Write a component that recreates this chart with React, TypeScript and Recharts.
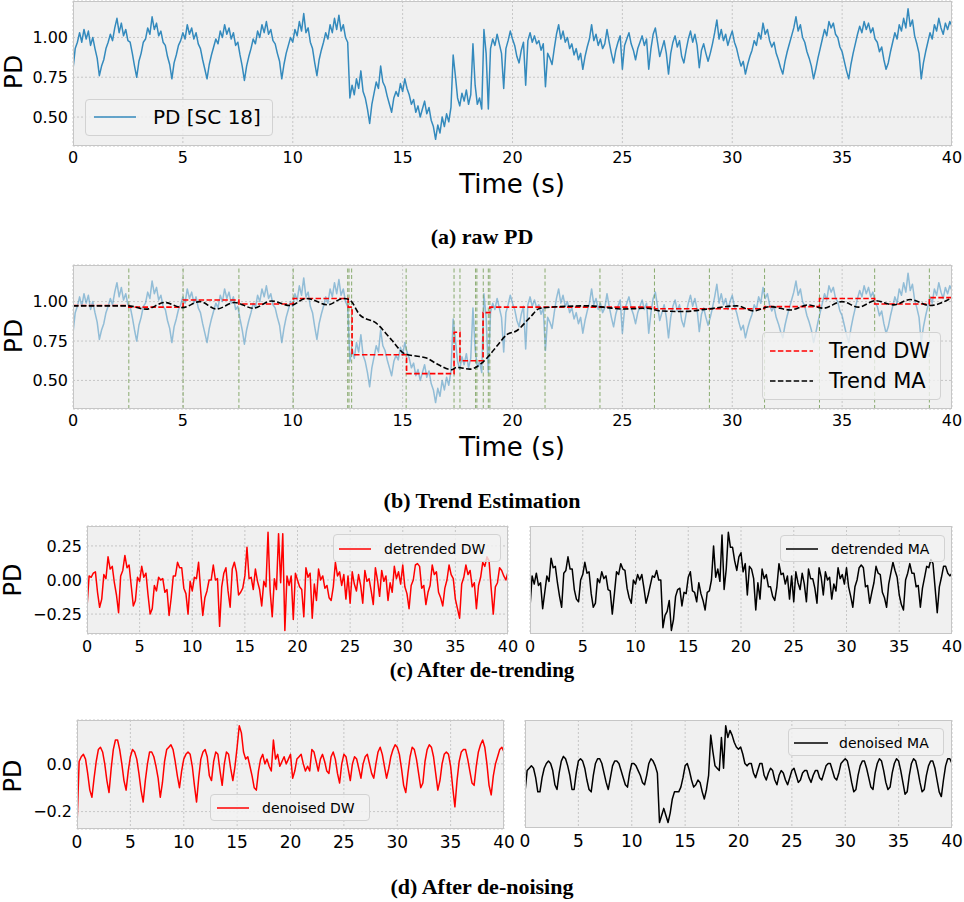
import React from 'react';
import { LineChart, Line, XAxis, YAxis, CartesianGrid, ReferenceLine } from 'recharts';

const FONT = '"DejaVu Sans", sans-serif';
const SERIF = '"Liberation Serif", "DejaVu Serif", serif';

// time axis
const xTicks = [0, 5, 10, 15, 20, 25, 30, 35, 40];
const RAW_STEP = 0.1;
const SMOOTH_STEP = 0.2;

// (a) raw PD, one row per second
const rawPD = [
  0.80, 0.93, 0.97, 1.03, 0.97, 1.05, 0.99, 1.04, 0.95, 1.00,
  0.93, 0.87, 0.76, 0.82, 0.86, 0.93, 0.97, 1.02, 0.98, 1.06,
  1.12, 1.03, 1.09, 1.01, 1.05, 0.98, 0.97, 0.90, 0.82, 0.75,
  0.85, 0.90, 0.97, 0.99, 1.06, 1.02, 1.13, 1.05, 1.09, 1.01,
  1.04, 0.97, 0.95, 0.88, 0.83, 0.74, 0.84, 0.89, 0.95, 0.98,
  1.03, 0.99, 1.08, 1.02, 1.06, 0.99, 1.03, 0.96, 0.93, 0.86,
  0.80, 0.74, 0.83, 0.89, 0.94, 0.99, 0.96, 1.04, 1.00, 1.08,
  1.02, 1.06, 0.99, 1.03, 0.95, 0.97, 0.89, 0.82, 0.73, 0.82,
  0.88, 0.93, 0.99, 0.96, 1.04, 1.00, 1.08, 1.03, 1.10, 1.02,
  1.05, 0.98, 0.96, 0.90, 0.85, 0.74, 0.83, 0.90, 0.95, 1.00,
  0.97, 1.05, 1.01, 1.10, 1.04, 1.15, 1.03, 1.06, 0.97, 0.93,
  0.84, 0.76, 0.86, 0.92, 0.97, 1.03, 0.99, 1.08, 1.03, 1.12,
  1.05, 1.14, 1.04, 1.08, 1.00, 0.97, 0.62, 0.70, 0.64, 0.74,
  0.68, 0.79, 0.66, 0.62, 0.55, 0.46, 0.58, 0.65, 0.72, 0.68,
  0.82, 0.72, 0.69, 0.63, 0.58, 0.53, 0.62, 0.66, 0.63, 0.71,
  0.66, 0.74, 0.68, 0.64, 0.58, 0.61, 0.53, 0.57, 0.50, 0.55,
  0.60, 0.52, 0.56, 0.48, 0.44, 0.36, 0.45, 0.40, 0.50, 0.44,
  0.52, 0.47, 0.56, 0.89, 0.76, 0.62, 0.57, 0.65, 0.60, 0.67,
  0.58, 0.64, 0.96, 0.70, 0.58, 0.62, 0.55, 1.05, 0.90, 0.55,
  0.93, 0.99, 0.95, 1.02, 0.96, 0.90, 0.68, 0.93, 0.98, 1.04,
  0.99, 0.95, 0.88, 0.84, 0.92, 0.97, 0.70, 0.98, 1.03, 0.97,
  1.01, 0.96, 0.98, 0.92, 0.96, 0.69, 0.90, 0.87, 0.83, 0.93,
  1.02, 1.08, 0.99, 1.04, 0.97, 1.00, 0.93, 0.96, 0.89, 0.93,
  0.86, 0.90, 0.80, 0.88, 0.94, 0.99, 1.08, 0.98, 1.02, 0.95,
  0.99, 0.93, 0.96, 1.05, 0.97, 0.90, 0.84, 0.92, 0.97, 1.01,
  0.80, 0.95, 0.99, 1.03, 0.96, 0.92, 0.86, 0.93, 0.97, 1.01,
  0.95, 0.99, 0.80, 0.93, 1.02, 1.06, 0.97, 0.88, 0.93, 0.98,
  0.90, 0.77, 0.90, 0.97, 1.01, 0.94, 0.98, 0.88, 0.84, 0.92,
  0.99, 1.04, 0.97, 1.02, 0.95, 0.81, 0.92, 0.96, 0.90, 0.85,
  0.90, 0.96, 1.03, 1.11, 0.99, 1.05, 0.98, 1.02, 0.95, 1.00,
  1.04, 0.97, 0.93, 0.87, 0.82, 0.85, 0.77, 0.83, 0.88, 0.92,
  0.98, 0.95, 1.03, 0.99, 1.09, 1.02, 1.05, 0.98, 0.94, 0.97,
  0.90, 0.86, 0.81, 0.77, 0.85, 0.91, 0.96, 1.01, 1.06, 1.13,
  1.04, 1.08, 1.00, 0.97, 0.91, 0.87, 0.82, 0.74, 0.80, 0.87,
  0.93, 0.99, 1.05, 1.01, 1.10, 1.06, 1.09, 1.02, 1.00, 0.94,
  0.91, 0.85, 0.79, 0.74, 0.83, 0.90, 0.96, 1.02, 1.07, 1.03,
  1.10, 1.05, 1.09, 1.03, 1.06, 0.99, 0.97, 0.91, 0.94, 0.86,
  0.80, 0.84, 0.91, 0.97, 1.03, 0.99, 1.08, 1.04, 1.12, 1.06,
  1.18, 1.07, 1.11, 1.01, 0.96, 0.90, 0.74, 0.84, 0.91, 0.97,
  1.03, 0.99, 1.08, 1.04, 1.12, 1.06, 1.02, 1.09, 1.05, 1.10,
  1.07,
];

// (b) trend estimation
const trendDWTimes = [0, 2.54, 5.01, 7.55, 10.02, 12.52, 12.7, 15.18, 17.34, 17.61, 18.66, 18.97, 26.46, 31.47, 33.97, 36.48, 38.97, 40];
const trendDWValues = [0.975, 0.965, 1.01, 0.985, 1.02, 0.965, 0.663, 0.543, 0.806, 0.625, 0.93, 0.965, 0.955, 0.968, 1.02, 0.985, 1.025, 1.025];

const trendMATimes = [
  0, 1, 2, 2.5, 3.33, 4.17, 4.98, 5.77, 6.53, 7.36,
  8.2, 9.03, 9.87, 10.62, 11.6, 12.3, 12.6, 13.05, 13.8, 14.49,
  15.1, 15.6, 16.09, 16.55, 17.23, 17.46, 18.06, 18.6, 18.97, 19.3,
  19.73, 20.19, 20.8, 21.25, 22.16, 23.53, 24.29, 25.05, 26.11, 26.72,
  27.78, 28.84, 30.21, 30.97, 31.73, 32.64, 33.47, 34.15, 34.99, 35.75,
  36.51, 37.34, 38.1, 39.0, 40.0,
];
const trendMAValues = [
  0.973, 0.973, 0.973, 0.973, 0.952, 0.994, 0.962, 1.0, 0.953, 0.994,
  0.958, 1.004, 0.975, 1.02, 0.98, 1.02, 1.01, 0.916, 0.863, 0.758,
  0.669, 0.655, 0.642, 0.606, 0.568, 0.583, 0.572, 0.61, 0.663, 0.72,
  0.789, 0.815, 0.9, 0.958, 0.968, 0.973, 0.962, 0.953, 0.958, 0.941,
  0.937, 0.952, 0.973, 0.941, 0.968, 0.947, 0.979, 0.958, 1.0, 0.965,
  1.006, 0.979, 1.013, 0.975, 1.025,
];

const changePoints = [2.54, 5.01, 7.55, 10.02, 12.5, 12.56, 12.68, 15.16, 17.34, 17.61, 18.32, 18.38, 18.67, 18.9, 18.97, 21.48, 23.98, 26.46, 28.96, 31.47, 33.97, 36.48, 38.97];

// (c) after de-trending, one row per 2 s
const detrendedDW = [
  -0.20, 0.03, 0.02, 0.05, 0.06, -0.09, -0.20, -0.14, 0.04, 0.01,
  0.17, 0.08, 0.10, -0.02, -0.11, -0.24, 0.03, 0.07, 0.18, 0.09,
  0.11, -0.04, -0.19, -0.15, 0.02, -0.01, 0.10, 0.02, 0.05, -0.11,
  -0.25, -0.21, -0.04, -0.08, 0.02, 0.00, 0.01, -0.09, -0.07, -0.26,
  -0.13, 0.03, 0.03, 0.13, 0.09, 0.09, -0.06, -0.10, -0.25, -0.01,
  -0.08, 0.02, 0.01, 0.13, -0.08, -0.26, -0.13, -0.08, 0.00, 0.00,
  0.11, 0.00, 0.01, -0.34, -0.05, 0.05, 0.09, -0.08, -0.20, 0.08,
  0.13, 0.06, -0.11, -0.09, -0.06, 0.03, 0.24, 0.01, 0.02, -0.07,
  0.08, -0.01, -0.07, -0.19, -0.01, -0.05, 0.35, -0.08, -0.27, 0.01,
  -0.07, 0.34, -0.02, 0.34, -0.37, 0.03, -0.04, 0.03, -0.29, 0.05,
  0.00, -0.05, -0.07, -0.27, 0.09, 0.02, 0.05, -0.28, -0.03, -0.15,
  0.08, 0.00, 0.03, -0.06, -0.04, -0.13, -0.15, -0.05, 0.13, 0.03,
  0.06, -0.04, 0.04, -0.14, 0.03, -0.17, 0.06, -0.03, -0.08, 0.04,
  -0.04, -0.17, 0.07, -0.01, 0.01, -0.08, -0.18, 0.09, 0.00, -0.12,
  0.07, -0.01, 0.03, -0.15, -0.02, -0.09, 0.10, 0.01, 0.06, -0.03,
  0.11, -0.05, -0.10, -0.21, -0.04, 0.00, 0.11, 0.12, 0.10, -0.06,
  -0.04, -0.18, -0.09, -0.04, 0.11, 0.04, 0.06, -0.09, -0.13, -0.19,
  -0.06, 0.00, 0.11, 0.04, 0.01, -0.14, -0.21, -0.28, -0.03, 0.02,
  0.11, 0.04, 0.07, -0.05, -0.02, -0.21, -0.04, 0.02, 0.13, 0.10,
  0.17, 0.14, -0.06, -0.25, -0.05, -0.02, 0.09, 0.07, 0.03, 0.00,
  0.06,
];

const detrendedMA = [
  -0.20, 0.03, -0.03, 0.05, -0.04, -0.02, -0.21, -0.09, 0.03, -0.01,
  0.16, 0.09, 0.10, -0.02, -0.12, -0.20, 0.05, 0.07, 0.17, 0.08,
  0.08, -0.07, -0.14, -0.16, 0.00, 0.04, 0.13, 0.05, 0.06, -0.10,
  -0.20, -0.17, 0.01, -0.02, 0.06, 0.01, 0.03, -0.07, -0.08, -0.25,
  -0.10, 0.06, 0.04, 0.12, 0.08, 0.07, -0.06, -0.13, -0.17, 0.00,
  -0.03, 0.04, 0.00, 0.04, -0.06, -0.17, -0.11, -0.04, 0.03, 0.02,
  0.07, 0.00, 0.00, -0.35, -0.26, -0.23, -0.15, -0.37, -0.29, -0.12,
  -0.07, -0.06, -0.19, -0.09, -0.10, 0.02, 0.06, -0.08, -0.09, -0.16,
  -0.02, -0.10, -0.15, -0.22, -0.09, -0.08, 0.00, 0.25, 0.02, 0.08,
  -0.01, 0.33, -0.07, 0.08, 0.35, 0.24, 0.24, 0.14, 0.07, 0.17,
  0.20, 0.06, 0.12, -0.11, 0.10, 0.08, 0.01, -0.22, -0.02, -0.14,
  0.08, 0.01, 0.04, -0.05, -0.05, -0.12, -0.15, -0.05, 0.12, 0.04,
  0.05, -0.03, 0.03, -0.14, 0.03, -0.16, 0.06, -0.02, -0.07, 0.05,
  -0.03, -0.16, 0.08, 0.01, 0.01, -0.06, -0.17, 0.09, 0.02, -0.11,
  0.06, 0.00, 0.02, -0.14, -0.03, -0.08, 0.09, 0.01, 0.04, -0.03,
  0.09, -0.05, -0.12, -0.20, -0.05, 0.00, 0.09, 0.11, 0.09, -0.05,
  -0.04, -0.17, -0.09, -0.02, 0.10, 0.05, 0.04, -0.09, -0.13, -0.20,
  -0.03, 0.05, 0.13, 0.07, 0.02, -0.11, -0.18, -0.22, 0.00, 0.05,
  0.12, 0.05, 0.05, -0.05, -0.04, -0.20, -0.06, 0.02, 0.10, 0.09,
  0.15, 0.12, -0.06, -0.24, -0.05, 0.02, 0.10, 0.10, 0.05, 0.03,
  0.05,
];

// (d) after de-noising
const denoisedDW = [
  -0.26, 0.01, 0.03, 0.04, 0.02, -0.04, -0.11, -0.14, -0.06, 0.01,
  0.06, 0.07, 0.05, 0.00, -0.07, -0.12, -0.02, 0.06, 0.10, 0.10,
  0.06, 0.00, -0.07, -0.11, -0.03, 0.03, 0.06, 0.05, 0.02, -0.04,
  -0.11, -0.16, -0.07, 0.00, 0.05, 0.05, 0.03, -0.01, -0.06, -0.14,
  -0.08, 0.01, 0.06, 0.07, 0.08, 0.06, 0.01, -0.05, -0.10, -0.03,
  0.02, 0.04, 0.05, 0.04, -0.01, -0.09, -0.16, -0.06, 0.02, 0.05,
  0.06, 0.03, -0.05, -0.07, 0.01, 0.05, 0.04, -0.03, -0.09, 0.00,
  0.05, 0.04, -0.02, -0.07, -0.01, 0.07, 0.16, 0.13, 0.05, 0.02,
  0.03, -0.01, -0.05, -0.10, -0.11, -0.03, 0.02, 0.04, 0.00, 0.02,
  -0.01, -0.03, 0.10, 0.02, 0.04, -0.01, 0.01, 0.03, 0.00, 0.02,
  0.04, -0.06, -0.03, 0.02, 0.03, 0.04, 0.00, -0.03, -0.01, -0.03,
  0.06, 0.05, 0.01, -0.03, 0.02, 0.04, 0.01, -0.03, -0.04, 0.03,
  0.05, 0.02, -0.04, -0.08, 0.00, 0.04, 0.03, -0.02, -0.07, 0.00,
  0.03, 0.02, -0.02, -0.06, 0.00, 0.03, 0.04, 0.00, -0.04, -0.06,
  0.00, 0.05, 0.07, 0.04, -0.01, -0.06, -0.02, 0.03, 0.06, 0.08,
  0.07, 0.04, -0.02, -0.09, -0.12, -0.04, 0.03, 0.07, 0.06, 0.02,
  -0.04, -0.10, -0.08, 0.01, 0.06, 0.08, 0.07, 0.03, -0.04, -0.11,
  -0.07, 0.00, 0.04, 0.05, 0.04, -0.01, -0.10, -0.18, -0.07, 0.01,
  0.05, 0.06, 0.06, 0.02, -0.03, -0.08, -0.09, -0.01, 0.05, 0.08,
  0.10, 0.07, 0.00, -0.09, -0.13, -0.05, 0.00, 0.03, 0.06, 0.07,
  0.05,
];

const denoisedMA = [
  -0.12, -0.03, -0.02, -0.01, -0.02, -0.06, -0.12, -0.12, -0.06, -0.02,
  0.00, 0.01, 0.00, -0.03, -0.09, -0.11, -0.04, 0.01, 0.03, 0.02,
  -0.01, -0.05, -0.11, -0.11, -0.04, 0.01, 0.02, 0.01, -0.02, -0.07,
  -0.11, -0.12, -0.05, 0.00, 0.02, 0.02, 0.00, -0.04, -0.08, -0.11,
  -0.06, -0.01, 0.01, 0.01, 0.00, -0.03, -0.06, -0.09, -0.10, -0.04,
  0.00, 0.00, -0.01, -0.03, -0.05, -0.08, -0.09, -0.05, 0.00, 0.02,
  0.01, -0.01, -0.04, -0.25, -0.22, -0.19, -0.22, -0.25, -0.21, -0.15,
  -0.12, -0.12, -0.12, -0.10, -0.06, -0.01, 0.00, -0.03, -0.07, -0.10,
  -0.09, -0.07, -0.08, -0.12, -0.15, -0.11, -0.05, 0.12, 0.05, -0.01,
  -0.02, -0.03, 0.11, -0.02, 0.16, 0.11, 0.14, 0.12, 0.09, 0.07,
  0.06, 0.07, 0.04, 0.00, -0.01, 0.00, 0.00, -0.04, -0.06, -0.03,
  0.00, 0.00, -0.05, -0.07, -0.04, -0.02, -0.03, -0.07, -0.09, -0.05,
  -0.03, -0.04, -0.07, -0.09, -0.06, -0.03, -0.02, -0.05, -0.08, -0.07,
  -0.04, -0.03, -0.03, -0.06, -0.08, -0.05, -0.03, -0.03, -0.06, -0.07,
  -0.04, -0.01, 0.00, 0.00, -0.03, -0.06, -0.07, -0.04, 0.00, 0.01,
  0.02, 0.01, -0.03, -0.08, -0.12, -0.11, -0.05, -0.01, 0.01, 0.01,
  -0.02, -0.06, -0.10, -0.11, -0.04, 0.00, 0.02, 0.01, -0.03, -0.08,
  -0.11, -0.10, -0.04, 0.00, 0.02, 0.01, -0.03, -0.08, -0.13, -0.12,
  -0.05, 0.00, 0.02, 0.01, -0.03, -0.08, -0.12, -0.11, -0.05, -0.01,
  0.01, 0.01, -0.02, -0.07, -0.12, -0.14, -0.07, -0.01, 0.02, 0.02,
  0.00,
];

const toRows = (values: number[], step: number) =>
  values.map((v, i) => ({ t: Math.round(i * step * 100) / 100, v }));

const rawRows = toRows(rawPD, RAW_STEP);
const dwRows = trendDWTimes.map((t, i) => ({ t, v: trendDWValues[i] }));
const maRows = trendMATimes.map((t, i) => ({ t, v: trendMAValues[i] }));
const detDWRows = toRows(detrendedDW, SMOOTH_STEP);
const detMARows = toRows(detrendedMA, SMOOTH_STEP);
const denDWRows = toRows(denoisedDW, SMOOTH_STEP);
const denMARows = toRows(denoisedMA, SMOOTH_STEP);

const minus = (s: string) => s.replace('-', '\u2212');

type Box = { x: number; y: number; w: number; h: number };

const PAD = 8;
const RIGHT = 16;
const YW = 60;

function Panel({ box, data, yDomain, yTicks, yDigits, xGap, xFont, children }: {
  box: Box; data: any[]; yDomain: [number, number]; yTicks?: number[]; yDigits?: number;
  xGap: number; xFont: number; children: React.ReactNode;
}) {
  const yw = yTicks ? YW : 0;
  const lead = yTicks ? 0 : 16; // room for the "0" tick label on panels without y axis
  const xh = 26;
  return (
    <div style={{ position: 'absolute', left: box.x - yw - lead, top: box.y - PAD }}>
      <LineChart width={lead + yw + box.w + RIGHT} height={PAD + box.h + xh} data={data}
        margin={{ top: PAD, right: RIGHT, left: lead, bottom: 0 }}>
        <CartesianGrid fill="#f0f0f0" stroke="#b4b4b4" strokeDasharray="2 2" strokeWidth={0.7}
          horizontal={!!yTicks} />
        <XAxis dataKey="t" type="number" domain={[0, 40]} ticks={xTicks} interval={0}
          allowDataOverflow height={xh} axisLine={false} tickLine={false}
          tickSize={4} tickMargin={xGap - 4}
          tick={{ fill: '#000', fontSize: xFont, fontFamily: FONT }} />
        {yTicks ? (
          <YAxis type="number" domain={yDomain} ticks={yTicks} allowDataOverflow width={yw}
            axisLine={false} tickLine={false} tickSize={3} tickMargin={2} interval={0}
            tickFormatter={(v: number) => minus(v.toFixed(yDigits ?? 2))}
            tick={{ fill: '#000', fontSize: 16, fontFamily: FONT }} />
        ) : (
          <YAxis type="number" domain={yDomain} allowDataOverflow hide />
        )}
        {children}
      </LineChart>
      <div style={{
        position: 'absolute', left: lead + yw, top: PAD, width: box.w, height: box.h,
        border: '1px solid #c6c6c6', boxSizing: 'border-box', pointerEvents: 'none',
      }} />
    </div>
  );
}

type LegendItem = { label: string; color: string; dash?: string };

function LegendBox({ x, y, w, h, lineX, lineW, textX, rows, font, items }: {
  x: number; y: number; w: number; h: number; lineX: number; lineW: number; textX: number;
  rows: number[]; font: number; items: LegendItem[];
}) {
  return (
    <div style={{
      position: 'absolute', left: x, top: y, width: w, height: h, boxSizing: 'border-box',
      background: 'rgba(242,242,242,0.8)', border: '1px solid #d2d2d2', borderRadius: 4,
    }}>
      {items.map((it, i) => (
        <React.Fragment key={it.label}>
          <svg style={{ position: 'absolute', left: lineX, top: rows[i] - 3 }} width={lineW} height={6}>
            <line x1={0} y1={3} x2={lineW} y2={3} stroke={it.color} strokeWidth={1.5}
              strokeDasharray={it.dash} />
          </svg>
          <div style={{
            position: 'absolute', left: textX, top: rows[i], transform: 'translateY(-50%)',
            fontFamily: FONT, fontSize: font, color: '#000', whiteSpace: 'nowrap', lineHeight: 1,
          }}>{it.label}</div>
        </React.Fragment>
      ))}
    </div>
  );
}

function Label({ x, y, size, text, rotate, serif }: {
  x: number; y: number; size: number; text: string; rotate?: boolean; serif?: boolean;
}) {
  return (
    <div style={{
      position: 'absolute', left: x, top: y,
      transform: `translate(-50%, -50%)${rotate ? ' rotate(-90deg)' : ''}`,
      fontFamily: serif ? SERIF : FONT, fontWeight: serif ? 700 : 400, fontSize: size,
      color: '#000', whiteSpace: 'nowrap', lineHeight: 1,
    }}>{text}</div>
  );
}

const DASH = '5.5 2.4';

export default function App() {
  return (
    <div style={{ position: 'absolute', left: 0, top: 0, width: 964, height: 902, background: '#fff', overflow: 'hidden' }}>
      {/* (a) raw PD */}
      <Panel box={{ x: 73, y: 1, w: 879, h: 145 }} data={rawRows} yDomain={[0.318, 1.229]}
        yTicks={[0.5, 0.75, 1.0]} xGap={6} xFont={16}>
        <Line dataKey="v" stroke="#348ABD" strokeWidth={1.5} dot={false} type="linear"
          strokeLinejoin="round" isAnimationActive={false} />
      </Panel>
      <LegendBox x={85} y={99} w={188} h={37} lineX={8} lineW={42} textX={67} rows={[17]} font={20}
        items={[{ label: 'PD [SC 18]', color: '#348ABD' }]} />
      <Label x={13} y={72} size={25} text="PD" rotate />
      <Label x={512} y={184} size={26} text="Time (s)" />
      <Label x={482} y={237} size={22} text="(a) raw PD" serif />

      {/* (b) trend estimation */}
      <Panel box={{ x: 73, y: 265, w: 879, h: 144 }} data={rawRows} yDomain={[0.319, 1.232]}
        yTicks={[0.5, 0.75, 1.0]} xGap={6} xFont={16}>
        <Line dataKey="v" stroke="#348ABD" strokeOpacity={0.5} strokeWidth={1.5} dot={false}
          type="linear" strokeLinejoin="round" isAnimationActive={false} />
        {changePoints.map((cp) => (
          <ReferenceLine key={cp} x={cp} stroke="#6f9a4f" strokeOpacity={0.8} strokeWidth={1}
            strokeDasharray="4 2.5" ifOverflow="hidden" />
        ))}
        <Line data={dwRows} dataKey="v" stroke="#ff0000" strokeWidth={1.6} strokeDasharray={DASH}
          dot={false} type="stepAfter" isAnimationActive={false} />
        <Line data={maRows} dataKey="v" stroke="#000" strokeWidth={1.6} strokeDasharray={DASH}
          dot={false} type="monotone" isAnimationActive={false} />
      </Panel>
      <LegendBox x={762} y={332} w={179} h={68} lineX={7} lineW={43} textX={66} rows={[18, 48]} font={21}
        items={[
          { label: 'Trend DW', color: '#ff0000', dash: DASH },
          { label: 'Trend MA', color: '#000', dash: DASH },
        ]} />
      <Label x={13} y={336} size={25} text="PD" rotate />
      <Label x={512} y={447} size={26} text="Time (s)" />
      <Label x={482} y={501} size={22} text="(b) Trend Estimation" serif />

      {/* (c) after de-trending */}
      <Panel box={{ x: 87, y: 526, w: 421, h: 108 }} data={detDWRows} yDomain={[-0.396, 0.396]}
        yTicks={[-0.25, 0, 0.25]} xGap={7} xFont={16}>
        <Line dataKey="v" stroke="#ff0000" strokeWidth={1.5} dot={false} type="linear"
          strokeLinejoin="round" isAnimationActive={false} />
      </Panel>
      <LegendBox x={333} y={534} w={168} h={28} lineX={5} lineW={32} textX={50} rows={[14]} font={14}
        items={[{ label: 'detrended DW', color: '#ff0000' }]} />
      <Panel box={{ x: 530, y: 526, w: 422, h: 108 }} data={detMARows} yDomain={[-0.396, 0.396]}
        xGap={7} xFont={16}>
        <Line dataKey="v" stroke="#000" strokeWidth={1.5} dot={false} type="linear"
          strokeLinejoin="round" isAnimationActive={false} />
      </Panel>
      <LegendBox x={780} y={535} w={165} h={27} lineX={5} lineW={32} textX={50} rows={[13]} font={14}
        items={[{ label: 'detrended MA', color: '#000' }]} />
      <Label x={13} y={580} size={24} text="PD" rotate />
      <Label x={482} y={670} size={21} text="(c) After de-trending" serif />

      {/* (d) after de-noising */}
      <Panel box={{ x: 77, y: 720, w: 427, h: 109 }} data={denDWRows} yDomain={[-0.273, 0.184]}
        yTicks={[-0.2, 0.0]} yDigits={1} xGap={7} xFont={17}>
        <Line dataKey="v" stroke="#ff0000" strokeWidth={1.5} dot={false} type="linear"
          strokeLinejoin="round" isAnimationActive={false} />
      </Panel>
      <LegendBox x={210} y={794} w={160} h={27} lineX={6} lineW={32} textX={51} rows={[13]} font={14}
        items={[{ label: 'denoised DW', color: '#ff0000' }]} />
      <Panel box={{ x: 525, y: 720, w: 427, h: 108 }} data={denMARows} yDomain={[-0.273, 0.184]}
        xGap={7} xFont={17}>
        <Line dataKey="v" stroke="#000" strokeWidth={1.5} dot={false} type="linear"
          strokeLinejoin="round" isAnimationActive={false} />
      </Panel>
      <LegendBox x={788} y={728} w={156} h={28} lineX={5} lineW={34} textX={50} rows={[14]} font={14}
        items={[{ label: 'denoised MA', color: '#000' }]} />
      <Label x={13} y={776} size={24} text="PD" rotate />
      <Label x={482} y={887} size={22} text="(d) After de-noising" serif />
    </div>
  );
}
